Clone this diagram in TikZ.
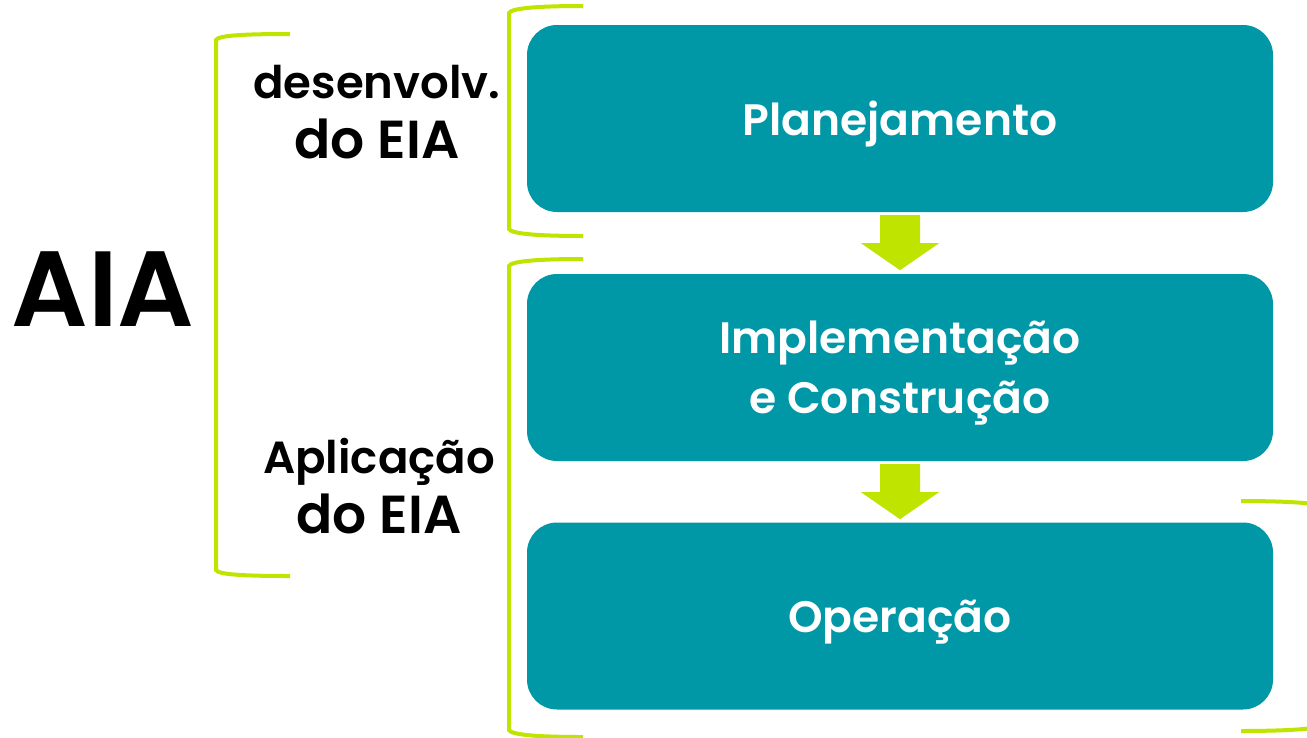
\documentclass[tikz,border=0pt]{standalone}
\usepackage{fontspec}
\setmainfont{Poppins}[BoldFont={Poppins SemiBold}]
\usetikzlibrary{calc}
\definecolor{teal}{RGB}{0,151,167}
\definecolor{lime}{RGB}{190,228,0}
\tikzset{
  box/.style={fill=teal, rounded corners=30pt, minimum width=746pt, minimum height=187pt, inner sep=0pt, text depth=0pt, text=white, font=\bfseries\fontsize{44}{60}\selectfont, align=center},
  side/.style={text=black, font=\bfseries\fontsize{45}{60}\selectfont, align=center, inner sep=0pt},
  brk/.style={draw=lime, line width=4pt},
  arr/.style={fill=lime}
}
\newcommand\bigline[1]{{\fontsize{53.5}{60}\selectfont #1}}
\begin{document}
\begin{tikzpicture}[x=1pt,y=-1pt]
\useasboundingbox (0,0) rectangle (1307,737);
\node[box] (plan) at (900,118.5) {Planejamento};
\node[box] (impl) at (900,367.5) {Implementação\\e Construção};
\node[box] (oper) at (900,616) {Operação};
\node[side, font=\bfseries\fontsize{107}{110}\selectfont] (aia) at (103,289) {AIA};
\node[side] (des) at (377,112) {desenvolv.\\\bigline{do EIA}};
\node[side] (apl) at (379,486) {Aplicação\\\bigline{do EIA}};
% arrows between boxes
\coordinate (a1) at ($(plan.south)+(0,3)$);
\coordinate (a2) at ($(impl.south)+(0,3)$);
\fill[arr] ($(a1)+(-20,0)$) -- ($(a1)+(20,0)$) -- ($(a1)+(20,28)$) -- ($(a1)+(39,28)$) -- ($(a1)+(0,55)$) -- ($(a1)+(-39,28)$) -- ($(a1)+(-20,28)$) -- cycle;
\fill[arr] ($(a2)+(-20,0)$) -- ($(a2)+(20,0)$) -- ($(a2)+(20,28)$) -- ($(a2)+(39,28)$) -- ($(a2)+(0,55)$) -- ($(a2)+(-39,28)$) -- ($(a2)+(-20,28)$) -- cycle;
% brackets
\draw[brk] (290,34) .. controls (250,34) and (218,35) .. (216,40) -- (216,570) .. controls (218,575) and (250,576) .. (290,576);
\draw[brk] (583,6) .. controls (540,6) and (511,8) .. (509,13) -- (509,229) .. controls (511,234) and (540,236) .. (583,236);
\draw[brk] (583,259) .. controls (540,259) and (511,261) .. (509,266) -- (509,730) .. controls (511,735) and (540,737) .. (583,737);
\draw[brk] (1241,501) .. controls (1270,501) and (1300,502) .. (1312,504) -- (1312,728) .. controls (1300,730) and (1270,731) .. (1241,731);
\end{tikzpicture}
\end{document}
